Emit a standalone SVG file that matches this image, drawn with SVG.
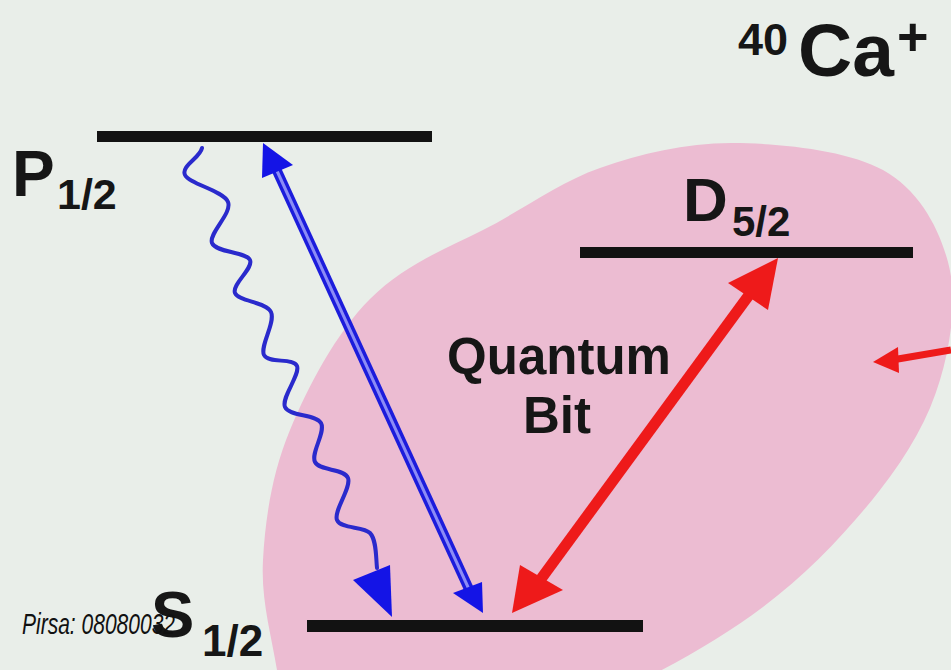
<svg xmlns="http://www.w3.org/2000/svg" width="951" height="670" viewBox="0 0 951 670">
<style>
.lbl{font-family:"Liberation Sans",Arial,sans-serif;font-weight:bold;fill:#161616}
.lvl{fill:#121212}
.blue{fill:#1414e6}
.red{fill:#ee1a1a}
</style>
<rect x="0" y="0" width="951" height="670" fill="#e9eee9"/>
<g id="qubit-region">
<path d="M733,143 C780.2,143.3 847.2,150.2 883,170 C918.8,189.8 938.5,227 948,262 C957.5,297 951.3,342 940,380 C928.7,418 909.5,452.2 880,490 C850.5,527.8 809.7,572 763,607 C716.3,642 660.5,672.8 600,700 C539.5,727.2 453.8,775 400,770 C346.2,765 283,707 277,670 C271,633 260.8,600 263,560 C265.2,520 271.7,473.8 290,430 C308.3,386.2 336,333 370,299 C404,265 445,249 483,230 C521,211 558.3,182.5 600,168 C641.7,153.5 685.8,142.7 733,143 Z" fill="#ecbcd2"/>
<text class="lbl" x="559" y="374" font-size="51" text-anchor="middle">Quantum</text>
<text class="lbl" x="557" y="433" font-size="51" text-anchor="middle">Bit</text>
</g>
<g id="title">
<text class="lbl" x="738" y="55" font-size="45">40</text>
<text class="lbl" x="798" y="76" font-size="75">Ca</text>
<text class="lbl" x="897" y="55" font-size="54">+</text>
</g>
<g id="level-P">
<rect class="lvl" x="97" y="131" width="335" height="11"/>
<text class="lbl" x="12" y="196" font-size="64">P</text>
<text class="lbl" x="57" y="209" font-size="43">1/2</text>
</g>
<g id="level-D">
<rect class="lvl" x="580" y="247" width="333" height="11"/>
<text class="lbl" x="683" y="221" font-size="62">D</text>
<text class="lbl" x="732" y="236" font-size="42">5/2</text>
</g>
<g id="level-S">
<rect class="lvl" x="307" y="620" width="336" height="12"/>
<text class="lbl" x="151" y="637" font-size="65">S</text>
<text class="lbl" x="202" y="656" font-size="44">1/2</text>
</g>
<g id="connectors">
<g id="blue-double-arrow">
<line x1="272" y1="160" x2="473" y2="598" stroke="#1c1cdc" stroke-width="10"/>
<line x1="272" y1="160" x2="473" y2="598" stroke="#8c8cf6" stroke-width="3"/>
<polygon class="blue" points="263,143 262,178 293,165"/>
<polygon class="blue" points="483,613 453,593 482,582"/>
</g>
<g id="wavy-arrow">
<path d="M202,148 C200,158 180.7,166 185,175 C189.3,184 223.5,190.7 228,202 C232.5,213.3 208.3,233.3 212,243 C215.7,252.7 246.2,251.7 250,260 C253.8,268.3 231.5,284.3 235,293 C238.5,301.7 266.2,301.7 271,312 C275.8,322.3 259.7,346 264,355 C268.3,364 293.5,357.3 297,366 C300.5,374.7 281,397.5 285,407 C289,416.5 316,413.8 321,423 C326,432.2 310.5,452.8 315,462 C319.5,471.2 344.3,468.3 348,478 C351.7,487.7 333.3,510.8 337,520 C340.7,529.2 363.3,526 370,533 C376.7,540 375.8,557.2 377,568" fill="none" stroke="#2a2acc" stroke-width="4" stroke-linecap="round"/>
<polygon class="blue" points="392,617 353,580 390,565"/>
</g>
<g id="red-double-arrow">
<line x1="752" y1="291" x2="538" y2="583" stroke="#ee1a1a" stroke-width="11"/>
<polygon class="red" points="778,258 728,283 768,310"/>
<polygon class="red" points="512,613 520,565 563,590"/>
</g>
<g id="side-arrow">
<line x1="951" y1="350" x2="892" y2="360" stroke="#ee1a1a" stroke-width="7"/>
<polygon class="red" points="873,362 898,347 899,373"/>
</g>
</g>
<text id="watermark" x="22" y="634" font-family="'Liberation Sans',Arial,sans-serif" font-style="italic" font-size="30" textLength="153" lengthAdjust="spacingAndGlyphs" fill="#111">Pirsa: 08080032</text>
</svg>
